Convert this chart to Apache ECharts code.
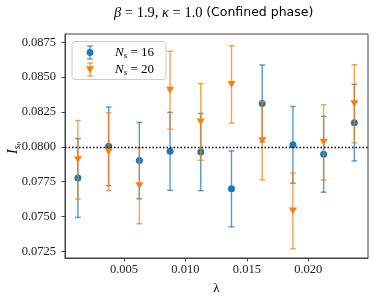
<!DOCTYPE html>
<html><head><meta charset="utf-8">
<script src="https://cdn.jsdelivr.net/npm/echarts@6/dist/echarts.min.js"></script>
<style>html,body{margin:0;padding:0;background:#fff}#c{width:374px;height:300px}</style>
</head><body><div id="c"></div>
<script>
const lambdas = [0.00125, 0.00375, 0.00625, 0.00875, 0.01125, 0.01375, 0.01625, 0.01875, 0.02125, 0.02375];
const ns16Values = [0.07776, 0.08003, 0.07901, 0.07967, 0.07962, 0.07698, 0.08310, 0.08014, 0.07946, 0.08173];
const ns16Errors = [0.00283, 0.00282, 0.00274, 0.00280, 0.00277, 0.00272, 0.00276, 0.00275, 0.00272, 0.00275];
const ns20Values = [0.07906, 0.07965, 0.07721, 0.08405, 0.08178, 0.08447, 0.08043, 0.07540, 0.08032, 0.08308];
const ns20Errors = [0.00282, 0.00280, 0.00273, 0.00280, 0.00275, 0.00278, 0.00280, 0.00272, 0.00270, 0.00280];
const refLine = 0.07974;
const xTicks = [0.005, 0.010, 0.015, 0.020];
const yTicks = [0.0725, 0.0750, 0.0775, 0.0800, 0.0825, 0.0850, 0.0875];
const seriesNames = ['N_s = 16', 'N_s = 20'];

const BLUE = '#1f77b4', ORANGE = '#ff7f0e';
const serif = '"Liberation Serif", "DejaVu Serif", serif';

function errSeries(vals, errs, color, z) {
  return {
    type: 'custom', z: z, silent: true,
    data: lambdas.map((x, i) => [x, vals[i], errs[i]]),
    renderItem: function (params, api) {
      const x = api.value(0), y = api.value(1), e = api.value(2);
      const t = api.coord([x, y + e]), b = api.coord([x, y - e]);
      const cw = 2.8;
      const st = { stroke: color, lineWidth: 1.4, opacity: 0.75 };
      return { type: 'group', children: [
        { type: 'line', shape: { x1: t[0], y1: t[1], x2: b[0], y2: b[1] }, style: st },
        { type: 'line', shape: { x1: t[0] - cw, y1: t[1], x2: t[0] + cw, y2: t[1] }, style: st },
        { type: 'line', shape: { x1: b[0] - cw, y1: b[1], x2: b[0] + cw, y2: b[1] }, style: st }
      ]};
    }
  };
}

const chart = echarts.init(document.getElementById('c'), null, { renderer: 'canvas' });
const fmtY = v => v.toFixed(4);
const fmtX = v => v.toFixed(3);

function legendIcon(cx, cy, color, sym) {
  const st = { stroke: color, lineWidth: 1.4, opacity: 0.75 };
  const items = [
    { type: 'line', z: 30, shape: { x1: cx, y1: cy - 6.5, x2: cx, y2: cy + 6.5 }, style: st },
    { type: 'line', z: 30, shape: { x1: cx - 2.8, y1: cy - 6.5, x2: cx + 2.8, y2: cy - 6.5 }, style: st },
    { type: 'line', z: 30, shape: { x1: cx - 2.8, y1: cy + 6.5, x2: cx + 2.8, y2: cy + 6.5 }, style: st }
  ];
  if (sym === 'circle') items.push({ type: 'circle', z: 31, shape: { cx: cx, cy: cy, r: 3.4 }, style: { fill: color } });
  else items.push({ type: 'polygon', z: 31, shape: { points: [[cx - 4, cy - 3.2], [cx + 4, cy - 3.2], [cx, cy + 3.8]] }, style: { fill: color } });
  return items;
}
function nsText(label) {
  const num = label.split('= ')[1];
  return '{i|N}{sub|s}{n| = ' + num + '}';
}
const legendRich = {
  i: { fontFamily: serif, fontStyle: 'italic', fontSize: 13, fill: '#000' },
  sub: { fontFamily: serif, fontStyle: 'italic', fontSize: 9, padding: [7, 0, 0, 0], fill: '#000' },
  n: { fontFamily: serif, fontSize: 13, fill: '#000' }
};

chart.setOption({
  animation: false,
  backgroundColor: '#fff',
  grid: { left: 65, right: 6, top: 34, bottom: 40, show: true, borderColor: '#444', borderWidth: 1, backgroundColor: 'transparent' },
  xAxis: {
    type: 'value', min: 0.0002, max: 0.02486,
    name: 'λ', nameLocation: 'middle', nameGap: 24,
    nameTextStyle: { fontFamily: serif, fontSize: 13, color: '#000' },
    axisLine: { show: true, onZero: false, lineStyle: { color: '#444', width: 1 } },
    axisTick: { show: true, inside: false, length: 3.5, lineStyle: { color: '#444' }, customValues: xTicks },
    axisLabel: { margin: 5, fontFamily: serif, fontSize: 12.5, color: '#222', customValues: xTicks, formatter: fmtX },
    splitLine: { show: false }
  },
  yAxis: {
    type: 'value', min: 0.07202, max: 0.08809,
    axisLine: { show: true, onZero: false, lineStyle: { color: '#444', width: 1 } },
    axisTick: { show: true, inside: false, length: 3.5, lineStyle: { color: '#444' }, customValues: yTicks },
    axisLabel: { margin: 9, fontFamily: serif, fontSize: 12.5, color: '#222', customValues: yTicks, formatter: fmtY },
    splitLine: { show: false }
  },
  series: [
    errSeries(ns16Values, ns16Errors, BLUE, 2),
    { type: 'scatter', name: seriesNames[0], z: 3, symbol: 'circle', symbolSize: 7,
      itemStyle: { color: BLUE, opacity: 1 },
      data: lambdas.map((x, i) => [x, ns16Values[i]]),
      markLine: { silent: true, symbol: 'none', label: { show: false },
        lineStyle: { color: '#000', type: [1.5, 2], width: 1.3 },
        data: [{ yAxis: refLine }] } },
    errSeries(ns20Values, ns20Errors, ORANGE, 4),
    { type: 'scatter', name: seriesNames[1], z: 5, symbol: 'triangle', symbolRotate: 180, symbolSize: [8, 7],
      itemStyle: { color: ORANGE, opacity: 1 },
      data: lambdas.map((x, i) => [x, ns20Values[i]]) }
  ],
  graphic: [
    { type: 'text', x: 114, y: 13, style: {
      text: '{gi|β}{g| = 1.9, }{gi|κ}{g| = 1.0 }{s|(Confined phase)}', verticalAlign: 'middle',
      rich: {
        gi: { fontFamily: serif, fontStyle: 'italic', fontSize: 14.5, fill: '#000' },
        g: { fontFamily: serif, fontSize: 14.5, fill: '#000' },
        s: { fontFamily: '"DejaVu Sans", sans-serif', fontSize: 12.5, fill: '#000' }
      } } },
    { type: 'text', x: 13, y: 148, rotation: Math.PI / 2, style: {
      text: '{i|I}{sub|s}{sub2|0}', align: 'center', verticalAlign: 'middle',
      rich: {
        i: { fontFamily: serif, fontStyle: 'italic', fontSize: 14, fill: '#000' },
        sub: { fontFamily: serif, fontStyle: 'italic', fontSize: 9.5, padding: [8, 0, 0, 0], fill: '#000' },
        sub2: { fontFamily: serif, fontSize: 7, padding: [12, 0, 0, 0], fill: '#000' }
      } } },
    { type: 'rect', z: 20, shape: { x: 72, y: 41.5, width: 94, height: 38, r: 3 },
      style: { fill: 'rgba(255,255,255,0.85)', stroke: '#cccccc', lineWidth: 1 } }
  ].concat(legendIcon(90, 52.5, BLUE, 'circle'), legendIcon(90, 69.5, ORANGE, 'tri'), [
    { type: 'text', z: 30, x: 115, y: 52.5, style: { text: nsText(seriesNames[0]), verticalAlign: 'middle', rich: legendRich } },
    { type: 'text', z: 30, x: 115, y: 69.5, style: { text: nsText(seriesNames[1]), verticalAlign: 'middle', rich: legendRich } }
  ])
});
</script></body></html>
